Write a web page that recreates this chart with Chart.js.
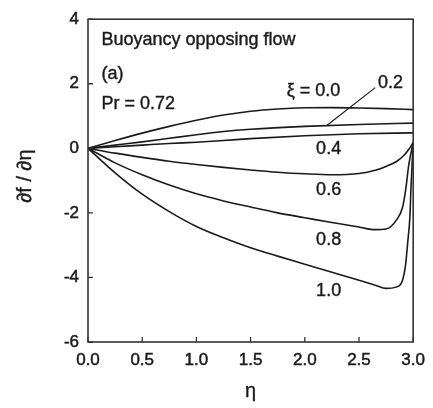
<!DOCTYPE html>
<html>
<head>
<meta charset="utf-8">
<script src="https://cdn.jsdelivr.net/npm/chart.js@4.4.1/dist/chart.umd.min.js"></script>
<style>
  html, body { margin: 0; padding: 0; background: #fff; }
</style>
</head>
<body>
<canvas id="profileChart" width="433" height="408"></canvas>
<script>
// xi values of the curves
const xiLabels = ['0.0', '0.2', '0.4', '0.6', '0.8', '1.0'];

// eta samples and df/deta values
const etaXi00 = [0, 0.25, 0.5, 0.75, 1.0, 1.25, 1.5, 1.75, 2.0, 2.25, 2.5, 2.75, 3.0];
const valXi00 = [0, 0.24, 0.47, 0.68, 0.87, 1.03, 1.15, 1.22, 1.255, 1.26, 1.25, 1.23, 1.2];

const etaXi02 = [0, 0.25, 0.5, 0.75, 1.0, 1.25, 1.5, 2.0, 2.5, 3.0];
const valXi02 = [0, 0.1, 0.2, 0.31, 0.42, 0.52, 0.59, 0.68, 0.74, 0.78];

const etaXi04 = [0, 0.25, 0.5, 0.75, 1.0, 1.25, 1.5, 2.0, 2.5, 3.0];
const valXi04 = [0, 0.05, 0.1, 0.15, 0.19, 0.24, 0.3, 0.39, 0.45, 0.48];

const etaXi06 = [0, 0.25, 0.5, 0.75, 1.0, 1.25, 1.5, 1.75, 2.0, 2.25, 2.5, 2.65, 2.75, 2.85, 2.92, 2.96, 3.0];
const valXi06 = [0, -0.15, -0.28, -0.4, -0.5, -0.59, -0.67, -0.74, -0.79, -0.82, -0.78, -0.68, -0.56, -0.4, -0.2, -0.03, 0.18];

const etaXi08 = [0, 0.25, 0.5, 0.75, 1.0, 1.25, 1.5, 1.75, 2.0, 2.25, 2.5, 2.65, 2.75, 2.85, 2.9, 2.93, 2.96, 3.0];
const valXi08 = [0, -0.45, -0.82, -1.14, -1.41, -1.63, -1.82, -2.0, -2.15, -2.3, -2.44, -2.52, -2.5, -2.2, -1.85, -1.3, -0.5, 0.18];

const etaXi10 = [0, 0.25, 0.5, 0.75, 1.0, 1.25, 1.5, 1.75, 2.0, 2.25, 2.5, 2.65, 2.75, 2.84, 2.9, 2.93, 2.95, 2.97, 2.98, 3.0];
const valXi10 = [0, -0.76, -1.42, -1.96, -2.42, -2.77, -3.08, -3.34, -3.59, -3.84, -4.09, -4.24, -4.34, -4.3, -4.1, -3.6, -2.9, -2.1, -1.2, 0.18];

// axis ticks
const xTicks = [0, 0.5, 1.0, 1.5, 2.0, 2.5, 3.0];
const yTicks = [-6, -4, -2, 0, 2, 4];

const etaSets = [etaXi00, etaXi02, etaXi04, etaXi06, etaXi08, etaXi10];
const valSets = [valXi00, valXi02, valXi04, valXi06, valXi08, valXi10];

const FONT = '"Liberation Sans", Arial, Helvetica, sans-serif';
const INK = '#1a1a1a';

const datasets = xiLabels.map((xi, i) => ({
    label: 'xi = ' + xi,
    data: etaSets[i].map((x, j) => ({ x: x, y: valSets[i][j] })),
    borderColor: INK,
    borderWidth: 1.6,
    pointRadius: 0,
    fill: false,
    cubicInterpolationMode: 'monotone'
}));

function boldText(ctx, txt, px, py) {
    ctx.fillText(txt, px, py);
    ctx.strokeText(txt, px, py);
}

// frame, inward ticks and curve annotations
const framePlugin = {
    id: 'frame',
    afterDraw(chart) {
        const { ctx, chartArea: a, scales: { x, y } } = chart;
        ctx.save();
        ctx.strokeStyle = '#333';
        ctx.lineWidth = 1.6;
        ctx.strokeRect(a.left, a.top, a.right - a.left, a.bottom - a.top);

        ctx.lineWidth = 1.3;
        ctx.beginPath();
        xTicks.forEach(v => {
            const px = x.getPixelForValue(v);
            ctx.moveTo(px, a.bottom);
            ctx.lineTo(px, a.bottom - 5);
        });
        yTicks.forEach(v => {
            const py = y.getPixelForValue(v);
            ctx.moveTo(a.left, py);
            ctx.lineTo(a.left + 5, py);
        });
        ctx.stroke();

        // leader line for 0.2
        ctx.strokeStyle = INK;
        ctx.lineWidth = 1.2;
        ctx.beginPath();
        ctx.moveTo(x.getPixelForValue(2.65), y.getPixelForValue(1.88));
        ctx.lineTo(x.getPixelForValue(2.2), y.getPixelForValue(0.7));
        ctx.stroke();

        ctx.fillStyle = INK;
        ctx.lineWidth = 0.4;
        ctx.textBaseline = 'middle';
        ctx.font = '18px ' + FONT;
        ctx.textAlign = 'left';
        boldText(ctx, 'Buoyancy opposing flow', x.getPixelForValue(0.124), y.getPixelForValue(3.36));
        boldText(ctx, '(a)', x.getPixelForValue(0.124), y.getPixelForValue(2.3));
        boldText(ctx, 'Pr = 0.72', x.getPixelForValue(0.124), y.getPixelForValue(1.38));

        ctx.textAlign = 'center';
        const tags = [
            ['\u03BE = ' + xiLabels[0], 2.08, 1.79],
            [xiLabels[1], 2.79, 2.03],
            [xiLabels[2], 2.22, -0.03],
            [xiLabels[3], 2.22, -1.3],
            [xiLabels[4], 2.22, -2.85],
            [xiLabels[5], 2.22, -4.42]
        ];
        tags.forEach(t => boldText(ctx, t[0], x.getPixelForValue(t[1]), y.getPixelForValue(t[2])));

        // axis titles
        ctx.font = '20px ' + FONT;
        boldText(ctx, '\u03B7', (a.left + a.right) / 2, 391);
        ctx.translate(25, 176);
        ctx.rotate(-Math.PI / 2);
        boldText(ctx, '\u2202f / \u2202\u03B7', 0, 0);
        ctx.restore();
    }
};

new Chart(document.getElementById('profileChart').getContext('2d'), {
    type: 'line',
    data: { datasets: datasets },
    options: {
        responsive: false,
        animation: false,
        layout: { padding: { top: 13, right: 15, left: 0, bottom: 0 } },
        plugins: {
            legend: { display: false },
            tooltip: { enabled: false }
        },
        scales: {
            x: {
                type: 'linear',
                min: 0,
                max: 3,
                afterFit: s => { s.height = 66; },
                afterBuildTicks: s => { s.ticks = xTicks.map(v => ({ value: v })); },
                grid: { display: false, drawTicks: false },
                border: { display: false },
                ticks: {
                    padding: 8,
                    color: INK,
                    textStrokeColor: INK,
                    textStrokeWidth: 0.5,
                    font: { family: FONT, size: 17 },
                    callback: v => v.toFixed(1)
                }
            },
            y: {
                type: 'linear',
                min: -6,
                max: 4,
                afterFit: s => { s.width = 88; },
                afterBuildTicks: s => { s.ticks = yTicks.map(v => ({ value: v })); },
                grid: { display: false, drawTicks: false },
                border: { display: false },
                ticks: {
                    padding: 9,
                    color: INK,
                    textStrokeColor: INK,
                    textStrokeWidth: 0.5,
                    font: { family: FONT, size: 17 },
                    callback: v => String(v)
                }
            }
        }
    },
    plugins: [framePlugin]
});
</script>
</body>
</html>
